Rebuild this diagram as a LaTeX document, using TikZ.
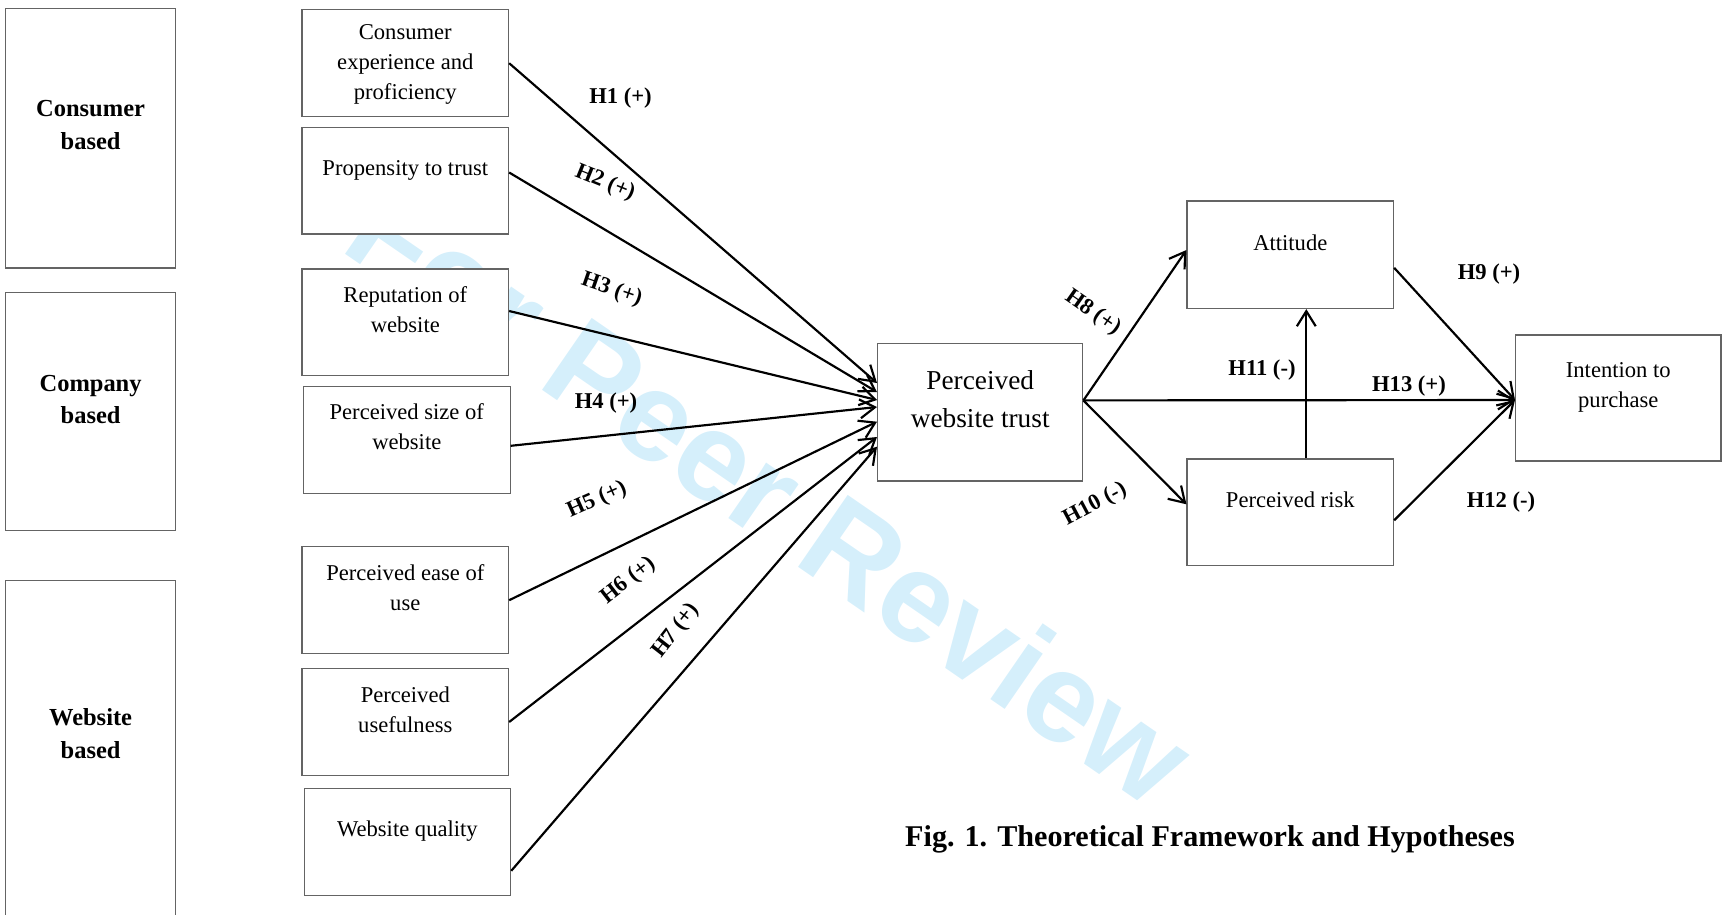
\documentclass[tikz,border=0pt]{standalone}
\usepackage{fontspec}
\setmainfont{Liberation Serif}
\newfontfamily\wmfont{Liberation Sans}
\usepackage{tikz}
\usetikzlibrary{arrows.meta, calc, positioning}
\definecolor{wmblue}{RGB}{213,239,251}
\definecolor{boxgray}{RGB}{100,100,100}

\begin{document}
\begin{tikzpicture}[x=0.531pt, y=-0.531pt,
    cbox/.style={draw=boxgray, line width=0.6pt, fill=white, inner sep=0pt},
    groupbox/.style={cbox, minimum width=90.4pt},
    inbox/.style={cbox, minimum width=109.7pt, minimum height=56.6pt},
    grouptext/.style={align=center, font=\fontsize{13}{17.5}\selectfont\bfseries},
    boxtext/.style={align=center, font=\fontsize{12}{16}\selectfont},
    hyp/.style={font=\fontsize{12}{14}\selectfont\bfseries, inner sep=1pt},
    hlink/.style={line width=1.15pt, -{Straight Barb[length=8pt,width=10pt]}},
]
    \useasboundingbox (0,0) rectangle (1722,914);

    % watermark
    \node[anchor=base west, rotate=-34.6, inner sep=0pt, text=wmblue,
        font=\wmfont\bfseries\fontsize{67.5}{70}\selectfont] (wm) at (338,249) {For Peer Review};

    % groups
    \node[groupbox, minimum height=137.6pt] (cons) at (90.6,138.4) {};
    \node[groupbox, minimum height=126.5pt] (comp) at (90.6,411.2) {};
    \node[groupbox, minimum height=191pt] (web) at (90.6,760) {};
    \node[grouptext] (consT) at ($(cons.north)+(0,117)$) {Consumer\\based};
    \node[grouptext] (compT) at ($(comp.north)+(0,108)$) {Company\\based};
    \node[grouptext] (webT) at ($(web.north)+(0,154)$) {Website\\based};

    % antecedents
    \node[inbox] (exp) at (405.3,63.2) {};
    \node[inbox] (prop) at (405.3,180.7) {};
    \node[inbox] (rep) at (405.3,322.3) {};
    \node[inbox] (size) at (406.8,439.8) {};
    \node[inbox] (ease) at (405.3,600.2) {};
    \node[inbox] (useful) at (405.3,722) {};
    \node[inbox] (quality) at (407.4,841.8) {};
    \node[boxtext] (expT) at ($(exp.north)+(0,55)$) {Consumer\\experience and\\proficiency};
    \node[boxtext] (propT) at ($(prop.north)+(0,44)$) {Propensity to trust};
    \node[boxtext] (repT) at ($(rep.north)+(0,41)$) {Reputation of\\website};
    \node[boxtext] (sizeT) at ($(size.north)+(0,41)$) {Perceived size of\\website};
    \node[boxtext] (easeT) at ($(ease.north)+(0,41)$) {Perceived ease of\\use};
    \node[boxtext] (usefulT) at ($(useful.north)+(0,42)$) {Perceived\\usefulness};
    \node[boxtext] (qualityT) at ($(quality.north)+(0,43.5)$) {Website quality};

    % trust, mediators, outcome
    \node[cbox, minimum width=109pt, minimum height=72.9pt] (pwt) at (980.2,412.4) {};
    \node[cbox, minimum width=109.7pt, minimum height=57.1pt] (att) at (1290.3,254.8) {};
    \node[cbox, minimum width=109.7pt, minimum height=56.6pt] (risk) at (1290.3,512.3) {};
    \node[cbox, minimum width=109.1pt, minimum height=66.9pt] (intent) at (1618.3,398) {};
    \node[align=center, font=\fontsize{14.5}{19.8}\selectfont] (pwtT) at ($(pwt.north)+(0,56)$) {Perceived\\website trust};
    \node[boxtext] (attT) at ($(att.north)+(0,42)$) {Attitude};
    \node[boxtext] (riskT) at ($(risk.north)+(0,41)$) {Perceived risk};
    \node[boxtext] (intentT) at ($(intent.north)+(0,53)$) {Intention to\\purchase};

    % H1--H7
    \draw[hlink] (exp.east) -- ($(pwt.west)+(0,-29.4)$);
    \draw[hlink] ($(prop.east)+(0,-8.2)$) -- ($(pwt.west)+(0,-20.4)$);
    \draw[hlink] ($(rep.east)+(0,-11.3)$) -- ($(pwt.west)+(0,-12.4)$);
    \draw[hlink] ($(size.east)+(0,6)$) -- ($(pwt.west)+(0,-5.4)$);
    \draw[hlink] (ease.east) -- ($(pwt.west)+(0,9.3)$);
    \draw[hlink] (useful.east) -- ($(pwt.west)+(0,24.6)$);
    \draw[hlink] ($(quality.east)+(0,29)$) -- ($(pwt.west)+(0,34.3)$);

    % H8--H13
    \coordinate (hub) at ($(pwt.east)+(0,-12)$);
    \coordinate (goal) at ($(intent.west)+(0,2)$);
    \draw[hlink] (hub) -- ($(att.west)+(0,-4.8)$);
    \draw[hlink] (hub) -- ($(risk.west)+(0,-8)$);
    \draw[hlink] (hub) -- (goal);
    \draw[hlink] ($(att.east)+(0,13)$) -- (goal);
    \draw[hlink] ($(risk.east)+(0,8)$) -- (goal);
    \draw[hlink] ($(risk.north)+(16,0)$) -- ($(att.south)+(16,0)$);

    % hypothesis labels
    \node[hyp] (h1) at (620.5,98.5) {H1 (+)};
    \node[hyp, rotate=-22] (h2) at (605,183) {H2 (+)};
    \node[hyp, rotate=-19] (h3) at (611.7,290) {H3 (+)};
    \node[hyp] (h4) at (606,403) {H4 (+)};
    \node[hyp, rotate=24] (h5) at (597,500) {H5 (+)};
    \node[hyp, rotate=38] (h6) at (628.3,580.7) {H6 (+)};
    \node[hyp, rotate=52] (h7) at (676,631) {H7 (+)};
    \node[hyp, rotate=-35] (h8) at (1093,312.5) {H8 (+)};
    \node[hyp] (h9) at (1489,274) {H9 (+)};
    \node[hyp, rotate=28] (h10) at (1095,504.5) {H10 (-)};
    \node[hyp] (h11) at (1262,370) {H11 (-)};
    \node[hyp] (h12) at (1501,502.5) {H12 (-)};
    \node[hyp] (h13) at (1409,386) {H13 (+)};

    % caption
    \node[font=\fontsize{16}{19}\selectfont\bfseries] (title) at (1210,839) {Fig. 1. Theoretical Framework and Hypotheses};
\end{tikzpicture}
\end{document}
